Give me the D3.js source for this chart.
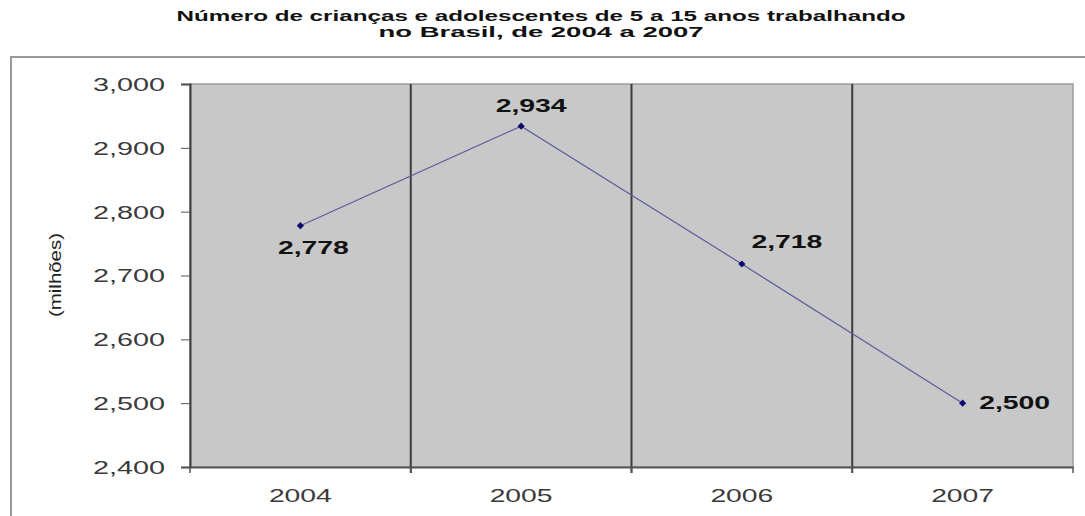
<!DOCTYPE html>
<html>
<head>
<meta charset="utf-8">
<script src="https://cdn.jsdelivr.net/npm/d3@7"></script>
<style>
  body { margin: 0; background: #fff; }
  svg { display: block; font-family: Arial, "Liberation Sans", sans-serif; }
</style>
</head>
<body>
<div id="chart"></div>
<script>
// data
var years = ["2004", "2005", "2006", "2007"];
var values = [2778, 2934, 2718, 2500];
var yTicks = [2400, 2500, 2600, 2700, 2800, 2900, 3000];
var titleLines = ["Número de crianças e adolescentes de 5 a 15 anos trabalhando",
                  "no Brasil, de 2004 a 2007"];
var yTitle = "(milhões)";

// where each value label baseline sits relative to its point
var labelOffsets = [[13, 28], [10, -14], [45, -16], [52, 6]];

var w = 1085, h = 516;
var plotL = 190, plotR = 1073, plotT = 84, plotB = 467;

var svg = d3.select("#chart").append("svg")
    .attr("width", w)
    .attr("height", h);

// title
svg.selectAll("text.title")
   .data(titleLines)
   .enter()
   .append("text")
   .attr("class", "title")
   .attr("x", 541)
   .attr("y", function(d, i) { return 21 + i * 16; })
   .attr("text-anchor", "middle")
   .attr("font-size", "15px")
   .attr("font-weight", "bold")
   .attr("fill", "#111")
   .attr("textLength", function(d, i) { return i == 0 ? 729 : 325; })
   .attr("lengthAdjust", "spacingAndGlyphs")
   .text(function(d) { return d; });

// outer frame (top and left edges only visible)
svg.append("path")
   .attr("d", "M11," + h + "V57H" + w)
   .attr("fill", "none")
   .attr("stroke", "#9a9a9a")
   .attr("stroke-width", 2);

var x = d3.scaleBand().domain(years).range([plotL, plotR]).padding(0);
var y = d3.scaleLinear().domain([2400, 3000]).range([plotB, plotT]);

// plot area
svg.append("rect")
   .attr("x", plotL)
   .attr("y", plotT)
   .attr("width", plotR - plotL)
   .attr("height", plotB - plotT)
   .attr("fill", "#c8c8c8")
   .attr("stroke", "#9c9c9c")
   .attr("stroke-width", 1.5);

// category dividers
svg.selectAll("line.div")
   .data(years.slice(1))
   .enter()
   .append("line")
   .attr("class", "div")
   .attr("x1", function(d) { return x(d); })
   .attr("x2", function(d) { return x(d); })
   .attr("y1", plotT)
   .attr("y2", plotB + 6)
   .attr("stroke", "#3c3c3c")
   .attr("stroke-width", 2);

// y axis
var yAxis = svg.append("g")
   .attr("transform", "translate(" + plotL + ",0)")
   .call(d3.axisLeft(y).tickValues(yTicks).tickFormat(d3.format(",")).tickSize(9).tickPadding(16));
yAxis.select(".domain").attr("stroke", "#3c3c3c").attr("stroke-width", 2);
yAxis.selectAll(".tick line").attr("stroke", "#555");
yAxis.selectAll(".tick text")
   .attr("font-size", "18px")
   .attr("fill", "#3a3a3a")
   .attr("dy", "0.36em")
   .attr("textLength", 72)
   .attr("lengthAdjust", "spacingAndGlyphs");

// x axis
var xAxis = svg.append("g")
   .attr("transform", "translate(0," + plotB + ")")
   .call(d3.axisBottom(x).tickSize(0).tickPadding(22));
xAxis.select(".domain").attr("stroke", "#555").attr("stroke-width", 2);
xAxis.selectAll(".tick text")
   .attr("font-size", "18px")
   .attr("fill", "#3a3a3a")
   .attr("textLength", 63)
   .attr("lengthAdjust", "spacingAndGlyphs");

// x ticks at band edges
svg.selectAll("line.xt")
   .data(years.concat(["end"]))
   .enter()
   .append("line")
   .attr("class", "xt")
   .attr("x1", function(d) { return d == "end" ? plotR : x(d); })
   .attr("x2", function(d) { return d == "end" ? plotR : x(d); })
   .attr("y1", plotB)
   .attr("y2", plotB + 6)
   .attr("stroke", "#555")
   .attr("stroke-width", 1.5);

// y title
svg.append("text")
   .attr("transform", "translate(61,275) rotate(-90)")
   .attr("text-anchor", "middle")
   .attr("font-size", "17px")
   .attr("fill", "#222")
   .attr("textLength", 84)
   .attr("lengthAdjust", "spacingAndGlyphs")
   .text(yTitle);

// line
var line = d3.line()
   .x(function(d, i) { return x(years[i]) + x.bandwidth() / 2; })
   .y(function(d) { return y(d); });

svg.append("path")
   .datum(values)
   .attr("d", line)
   .attr("fill", "none")
   .attr("stroke", "#5c5c9c")
   .attr("stroke-width", 1.2);

// markers
svg.selectAll("path.pt")
   .data(values)
   .enter()
   .append("path")
   .attr("class", "pt")
   .attr("d", d3.symbol().type(d3.symbolSquare).size(26))
   .attr("transform", function(d, i) {
      return "translate(" + (x(years[i]) + x.bandwidth() / 2) + "," + y(d) + ") rotate(45)";
   })
   .attr("fill", "#0a0a6e");

// value labels
svg.selectAll("text.val")
   .data(values)
   .enter()
   .append("text")
   .attr("class", "val")
   .attr("x", function(d, i) { return x(years[i]) + x.bandwidth() / 2 + labelOffsets[i][0]; })
   .attr("y", function(d, i) { return y(d) + labelOffsets[i][1]; })
   .attr("text-anchor", "middle")
   .attr("font-size", "18px")
   .attr("font-weight", "bold")
   .attr("fill", "#111")
   .attr("textLength", 71)
   .attr("lengthAdjust", "spacingAndGlyphs")
   .text(function(d) { return d3.format(",")(d); });
</script>
</body>
</html>
